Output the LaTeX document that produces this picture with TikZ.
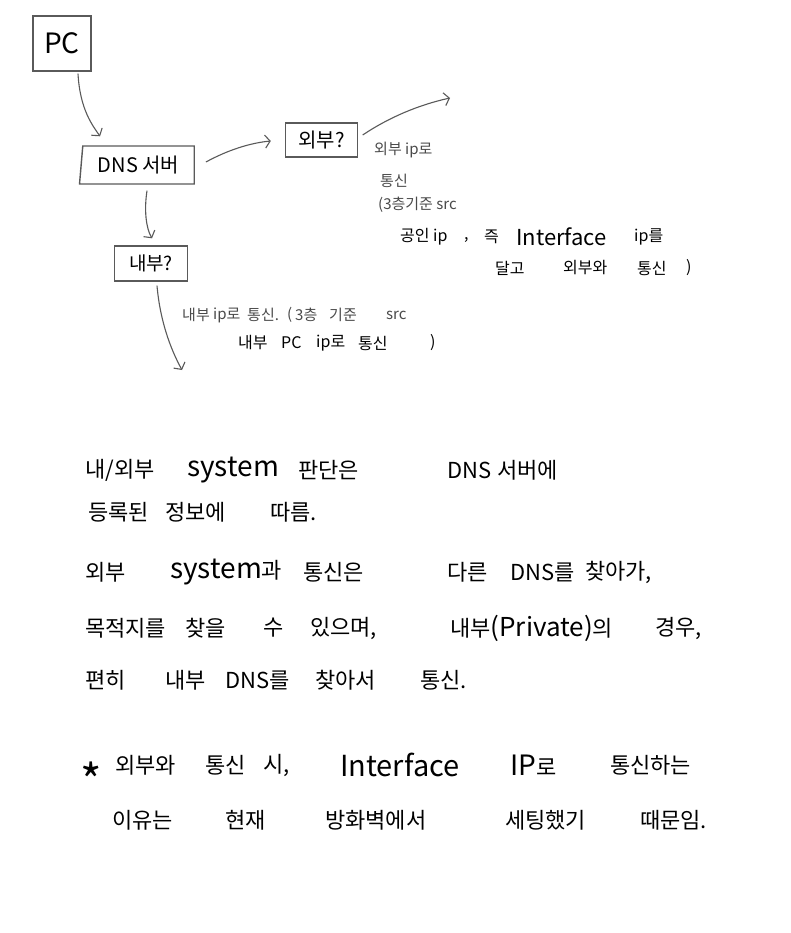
\documentclass[tikz,border=0pt]{standalone}
\usepackage{fontspec}
\newfontfamily\kr{Noto Sans CJK KR}
\usetikzlibrary{arrows.meta,shapes.geometric}
\definecolor{ln}{HTML}{5A5A5A}
\definecolor{gt}{HTML}{4A4A4A}
\newcommand\biglat[2]{{\fontsize{#1}{#1}\selectfont #2}}
\tikzset{
  box/.style={draw=ln, line width=1.4pt, inner sep=0pt},
  conn/.style={draw=ln, line width=1.1pt, -{Straight Barb[length=5pt,width=13pt,line width=1.1pt]}},
  w/.style={anchor=west, inner sep=0pt, font=\kr\fontsize{22}{22}\selectfont},
  ann/.style={anchor=west, inner sep=0pt, font=\kr\fontsize{16}{16}\selectfont},
  anng/.style={anchor=west, inner sep=0pt, text=gt, font=\kr\fontsize{15}{15}\selectfont},
}
\begin{document}
\begin{tikzpicture}[x=1pt,y=-1pt]
\useasboundingbox (0,0) rectangle (791,933);
\fill[white] (0,0) rectangle (791,933);

% boxes
\node[box, minimum width=58pt, minimum height=55pt, font=\kr\fontsize{28}{28}\selectfont] (pc) at (62,43.5) {PC};
\node[box, trapezium, trapezium left angle=82.5, trapezium right angle=90, trapezium stretches=true,
      minimum width=115pt, minimum height=38pt, font=\kr\fontsize{20}{20}\selectfont] (dns) at (138.5,165) {DNS 서버};
\node[box, minimum width=72pt, minimum height=34pt, font=\kr\fontsize{20}{20}\selectfont] (ext) at (321.5,140) {외부?};
\node[box, minimum width=73pt, minimum height=35pt, font=\kr\fontsize{19}{19}\selectfont] (int) at (151,263.5) {내부?};
\coordinate (extout) at (450,98);
\coordinate (intout) at (182,370);

% connectors
\draw[conn] ([xshift=16pt,yshift=-2pt]pc.south) .. controls (80,110) and (93,126) .. ([xshift=-38.5pt,yshift=9pt]dns.north);
\draw[conn] ([xshift=11pt,yshift=3pt]dns.east) .. controls (228,150) and (250,143) .. ([xshift=-14pt,yshift=-1pt]ext.west);
\draw[conn] ([xshift=8.5pt,yshift=-6pt]dns.south) .. controls (144,210) and (146,228) .. ([xshift=1pt,yshift=7pt]int.north);
\draw[conn] ([xshift=4.5pt,yshift=5pt]ext.east) .. controls (388,118) and (418,105) .. (extout);
\draw[conn] ([xshift=6pt,yshift=-4pt]int.south) .. controls (160,320) and (170,348) .. (intout);

% annotations near 외부?
\node[anng] (a1) at (374,150) {외부 ip로};
\node[anng] (a2) at (380,181) {통신};
\node[anng] (a3) at (378,205) {(3층기준 src};
\node[ann] (a4) at (400,237) {공인 ip};
\node[ann] (a5) at (464,240) {,};
\node[ann] (a6) at (484,237) {즉};
\node[ann] (a7) at (516,237) {\biglat{22}{Interface}};
\node[ann] (a8) at (634,237) {ip를};
\node[ann] (a9) at (495,268) {달고};
\node[ann] (a10) at (563,268) {외부와};
\node[ann] (a11) at (637,268) {통신};
\node[ann] (a12) at (686,268) {)};

% annotations near 내부?
\node[anng] (b1) at (182,315) {내부};
\node[anng] (b2) at (213,315) {ip로};
\node[anng] (b3) at (247,315) {통신.};
\node[anng] (b4) at (287,315) {(};
\node[anng] (b5) at (295,315) {3층};
\node[anng] (b6) at (329,315) {기준};
\node[anng] (b7) at (386,315) {src};
\node[ann] (b8) at (238,343) {내부};
\node[ann] (b9) at (281,343) {PC};
\node[ann] (b10) at (316,343) {ip로};
\node[ann] (b11) at (358,343) {통신};
\node[ann] (b12) at (430,343) {)};

% bottom text
\node[w] (l1a) at (85,470) {내/외부};
\node[w] (l1b) at (187,470) {\biglat{28}{system}};
\node[w] (l1c) at (298,470) {판단은};
\node[w] (l1d) at (447,470) {DNS};
\node[w] (l1e) at (497,470) {서버에};

\node[w] (l2a) at (88,512) {등록된};
\node[w] (l2b) at (165,512) {정보에};
\node[w] (l2c) at (270,512) {따름.};

\node[w] (l3a) at (85,572) {외부};
\node[w] (l3b) at (170,572) {\biglat{28}{system}과};
\node[w] (l3c) at (303,572) {통신은};
\node[w] (l3d) at (447,572) {다른};
\node[w] (l3e) at (510,572) {DNS를};
\node[w] (l3f) at (585,572) {찾아가,};

\node[w] (l4a) at (85,628) {목적지를};
\node[w] (l4b) at (185,628) {찾을};
\node[w] (l4c) at (263,628) {수};
\node[w] (l4d) at (310,628) {있으며,};
\node[w] (l4e) at (450,628) {내부\biglat{26}{(Private)}의};
\node[w] (l4f) at (655,628) {경우,};

\node[w] (l5a) at (85,680) {편히};
\node[w] (l5b) at (165,680) {내부};
\node[w] (l5c) at (225,680) {DNS를};
\node[w] (l5d) at (315,680) {찾아서};
\node[w] (l5e) at (420,680) {통신.};

\node[w, font=\kr\fontsize{46}{46}\selectfont] (l6a) at (80,780) {*};
\node[w] (l6b) at (115,765) {외부와};
\node[w] (l6c) at (205,765) {통신};
\node[w] (l6d) at (263,765) {시,};
\node[w] (l6e) at (340,765) {\biglat{29}{Interface}};
\node[w] (l6f) at (510,765) {\biglat{28}{IP}로};
\node[w] (l6g) at (610,765) {통신하는};

\node[w] (l7a) at (112,820) {이유는};
\node[w] (l7b) at (225,820) {현재};
\node[w] (l7c) at (325,820) {방화벽에서};
\node[w] (l7d) at (505,820) {세팅했기};
\node[w] (l7e) at (640,820) {때문임.};
\end{tikzpicture}
\end{document}
